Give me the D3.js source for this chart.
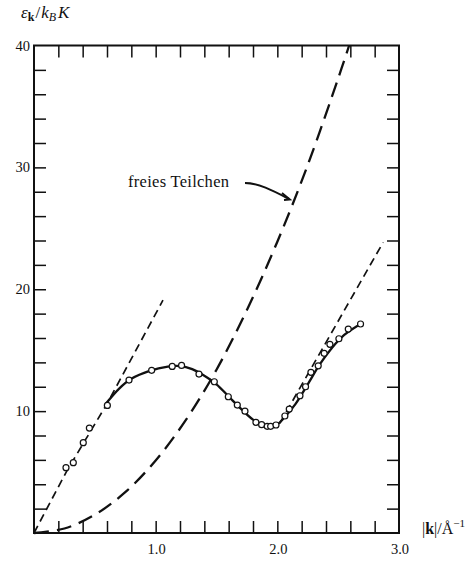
<!DOCTYPE html>
<html>
<head>
<meta charset="utf-8">
<script src="https://cdn.jsdelivr.net/npm/d3@7"></script>
<style>
  body { margin: 0; background: #fff; }
  text { font-family: "Liberation Serif", "DejaVu Serif", serif; fill: #111; }
</style>
</head>
<body>
<div id="chart"></div>
<script>
// measured points (|k| in 1/Angstrom, energy in K)
var pointK = [0.263, 0.323, 0.405, 0.455, 0.603, 0.781, 0.967, 1.136, 1.213, 1.356, 1.482, 1.597,
              1.671, 1.734, 1.824, 1.871, 1.917, 1.945, 1.989, 2.062, 2.098, 2.186, 2.232, 2.276,
              2.336, 2.385, 2.432, 2.506, 2.583, 2.684];
var pointE = [5.36, 5.77, 7.41, 8.61, 10.47, 12.55, 13.35, 13.67, 13.75, 13.04, 12.41, 11.18,
              10.50, 10.0, 9.08, 8.89, 8.75, 8.75, 8.86, 9.60, 10.17, 11.26, 12.0, 13.18,
              13.72, 14.74, 15.48, 15.94, 16.73, 17.15];

// solid dispersion curve
var curveK = [0.59, 0.7, 0.8, 0.95, 1.1, 1.2, 1.3, 1.4, 1.5, 1.6, 1.7, 1.8, 1.88, 1.93, 2.0,
              2.06, 2.15, 2.25, 2.35, 2.45, 2.55, 2.65, 2.69];
var curveE = [10.6, 11.85, 12.65, 13.3, 13.65, 13.7, 13.45, 12.9, 12.2, 11.2, 10.2, 9.3, 8.85,
              8.7, 8.9, 9.5, 10.6, 12.2, 13.85, 15.2, 16.25, 16.95, 17.15];

// phonon line, roton line, free particle parabola
var phononK = [0, 0.27, 0.6, 1.06];
var phononE = [0, 5.1, 10.6, 19.1];
var rotonK = [2.02, 2.87];
var rotonE = [9.0, 23.85];
var freeK = [0, 0.25, 0.5, 0.75, 1.0, 1.25, 1.5, 1.75, 2.0, 2.25, 2.5, 2.59];
var freeE = [0, 0.37, 1.5, 3.35, 5.95, 9.3, 13.4, 18.3, 23.9, 30.2, 37.3, 40];

var xTickLabels = [1.0, 2.0, 3.0];
var yTickLabels = [10, 20, 30, 40];

var svgWidth = 476;
var svgHeight = 562;

var svg = d3.select("#chart")
            .append("svg")
            .attr("width", svgWidth)
            .attr("height", svgHeight);

var x = d3.scaleLinear().domain([0, 3]).range([34, 399]);
var y = d3.scaleLinear().domain([0, 40]).range([533, 45.5]);

var tickLen = 12;

// frame with inward ticks on all four sides
var xMinor = d3.range(0.2, 2.9, 0.2);
var yMinor = d3.range(2, 39, 2);

svg.append("g")
   .attr("transform", "translate(0," + y(0) + ")")
   .call(d3.axisTop(x).tickValues(xMinor).tickSize(tickLen).tickFormat(""))
   .call(g => g.select(".domain").remove());
svg.append("g")
   .attr("transform", "translate(0," + y(40) + ")")
   .call(d3.axisBottom(x).tickValues(xMinor).tickSize(tickLen).tickFormat(""))
   .call(g => g.select(".domain").remove());
svg.append("g")
   .attr("transform", "translate(" + x(0) + ",0)")
   .call(d3.axisRight(y).tickValues(yMinor).tickSize(tickLen).tickFormat(""))
   .call(g => g.select(".domain").remove());
svg.append("g")
   .attr("transform", "translate(" + x(3) + ",0)")
   .call(d3.axisLeft(y).tickValues(yMinor).tickSize(tickLen).tickFormat(""))
   .call(g => g.select(".domain").remove());

svg.selectAll(".tick line").attr("stroke", "#111").attr("stroke-width", 1.5);

svg.append("rect")
   .attr("x", x(0)).attr("y", y(40))
   .attr("width", x(3) - x(0)).attr("height", y(0) - y(40))
   .attr("fill", "none").attr("stroke", "#111").attr("stroke-width", 2);

// tick labels
svg.selectAll(".xlab")
   .data(xTickLabels)
   .enter().append("text")
   .attr("x", d => x(d) + 1)
   .attr("y", 554)
   .attr("text-anchor", "middle")
   .attr("font-size", 14.5)
   .text(d => d.toFixed(1));

svg.selectAll(".ylab")
   .data(yTickLabels)
   .enter().append("text")
   .attr("x", 30)
   .attr("y", d => y(d) + 5)
   .attr("text-anchor", "end")
   .attr("font-size", 14.5)
   .text(d => d);

// axis titles
var yt = svg.append("text").attr("x", 21).attr("y", 18).attr("font-size", 17);
yt.append("tspan").attr("font-style", "italic").text("ε");
yt.append("tspan").attr("font-weight", "bold").attr("font-size", 12).attr("dy", 3).text("k");
yt.append("tspan").attr("dy", -3).attr("dx", 1).text("/");
yt.append("tspan").attr("font-style", "italic").attr("dx", 1).text("k");
yt.append("tspan").attr("font-style", "italic").attr("font-size", 12).attr("dy", 3).text("B");
yt.append("tspan").attr("font-style", "italic").attr("dy", -3).attr("dx", 2).text("K");

var xt = svg.append("text").attr("x", 422).attr("y", 534).attr("font-size", 16);
xt.append("tspan").text("|");
xt.append("tspan").attr("font-weight", "bold").text("k");
xt.append("tspan").text("|/Å");
xt.append("tspan").attr("font-size", 11).attr("dy", -7).text("−1");

// lines
var line = d3.line().x(d => x(d[0])).y(d => y(d[1]));
var smooth = d3.line().x(d => x(d[0])).y(d => y(d[1])).curve(d3.curveCatmullRom);

svg.append("path")
   .datum(d3.zip(phononK, phononE))
   .attr("d", line)
   .attr("fill", "none").attr("stroke", "#111")
   .attr("stroke-width", 1.7).attr("stroke-dasharray", "8,5");

svg.append("path")
   .datum(d3.zip(rotonK, rotonE))
   .attr("d", line)
   .attr("fill", "none").attr("stroke", "#111")
   .attr("stroke-width", 1.7).attr("stroke-dasharray", "8,5");

svg.append("path")
   .datum(d3.zip(freeK, freeE))
   .attr("d", smooth)
   .attr("fill", "none").attr("stroke", "#111")
   .attr("stroke-width", 2.3).attr("stroke-dasharray", "15,8");

svg.append("path")
   .datum(d3.zip(curveK, curveE))
   .attr("d", smooth)
   .attr("fill", "none").attr("stroke", "#111")
   .attr("stroke-width", 2.3);

// data points
svg.selectAll("circle")
   .data(d3.zip(pointK, pointE))
   .enter().append("circle")
   .attr("cx", d => x(d[0]))
   .attr("cy", d => y(d[1]))
   .attr("r", 3)
   .attr("fill", "#fff")
   .attr("stroke", "#111")
   .attr("stroke-width", 1.2);

// annotation
svg.append("text")
   .attr("x", 128).attr("y", 187)
   .attr("font-size", 16.5)
   .attr("textLength", 101)
   .attr("lengthAdjust", "spacing")
   .text("freies Teilchen");

svg.append("path")
   .attr("d", "M245,183 C258,183 272,190 289,199")
   .attr("fill", "none").attr("stroke", "#111").attr("stroke-width", 2);
svg.append("path")
   .attr("d", "M282,193 L290,199.5 L284,200")
   .attr("fill", "none").attr("stroke", "#111").attr("stroke-width", 1.8)
   .attr("stroke-linejoin", "miter");
</script>
</body>
</html>
